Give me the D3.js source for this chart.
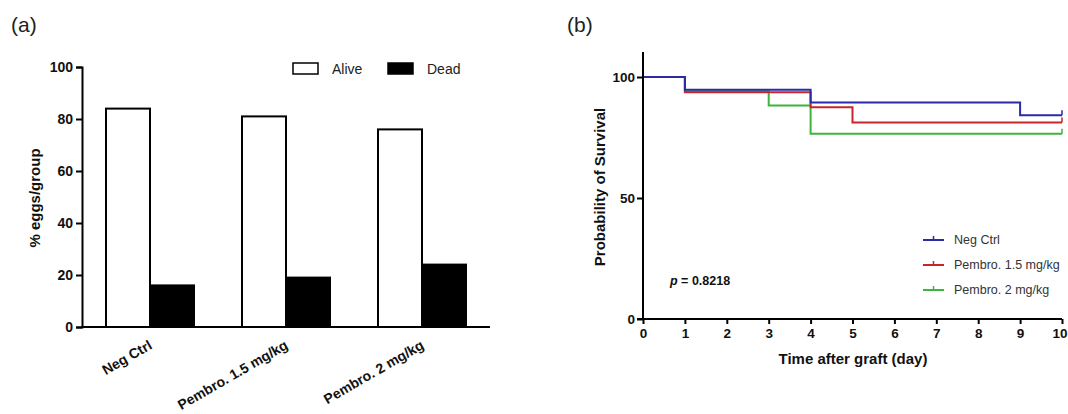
<!DOCTYPE html>
<html>
<head>
<meta charset="utf-8">
<script src="https://cdn.jsdelivr.net/npm/d3@7"></script>
<style>
body { margin: 0; background: #fff; }
text { font-family: "Liberation Sans", Arial, sans-serif; }
</style>
</head>
<body>
<script>
// panel (a) data
var groups = ["Neg Ctrl", "Pembro. 1.5 mg/kg", "Pembro. 2 mg/kg"];
var statusKeys = ["Alive", "Dead"];
var aliveValues = [84, 81, 76];
var deadValues = [16, 19, 24];
var barTicks = [0, 20, 40, 60, 80, 100];

// panel (b) data
var seriesNames = ["Neg Ctrl", "Pembro. 1.5 mg/kg", "Pembro. 2 mg/kg"];
var seriesColors = ["#2b2ba6", "#c4262b", "#3db43d"];
var negCtrlDays = [0, 1, 4, 9, 10];
var negCtrlSurv = [100, 94.7, 89.5, 84.2, 84.2];
var pembro15Days = [0, 1, 4, 5, 10];
var pembro15Surv = [100, 93.75, 87.5, 81.25, 81.25];
var pembro2Days = [0, 1, 3, 4, 10];
var pembro2Surv = [100, 94.1, 88.2, 76.5, 76.5];
var dayTicks = [0, 1, 2, 3, 4, 5, 6, 7, 8, 9, 10];
var survTicks = [0, 50, 100];
var pValue = "0.8218";

var svg = d3.select("body").append("svg").attr("width", 1068).attr("height", 414);

// ---------- panel (a) ----------
svg.append("text").attr("x", 11).attr("y", 32).style("font-size", "21px").attr("fill", "#222").text("(a)");

var x0 = d3.scaleBand().domain(groups).range([82, 490]).paddingInner(0).paddingOuter(0);
var y0 = d3.scaleLinear().domain([0, 100]).range([327, 67]);
var barW = 44;

var barRows = groups.map(function(g, i){ return {group: g, Alive: aliveValues[i], Dead: deadValues[i]}; });

var ga = svg.append("g");
barRows.forEach(function(r){
	var cx = x0(r.group) + x0.bandwidth() / 2;
	ga.append("rect").attr("x", cx - barW).attr("y", y0(r.Alive)).attr("width", barW).attr("height", y0(0) - y0(r.Alive))
	.attr("fill", "#fff").attr("stroke", "#000").attr("stroke-width", 2);
	ga.append("rect").attr("x", cx).attr("y", y0(r.Dead)).attr("width", barW).attr("height", y0(0) - y0(r.Dead))
	.attr("fill", "#000").attr("stroke", "#000").attr("stroke-width", 2);
});

var yAxisA = ga.append("g").attr("transform", "translate(82,0)")
	.call(d3.axisLeft(y0).tickValues(barTicks).tickSize(6).tickPadding(3));
var xAxisA = ga.append("g").attr("transform", "translate(0,327)")
	.call(d3.axisBottom(x0).tickSize(0).tickFormat(""));
[yAxisA, xAxisA].forEach(function(a){
	a.select(".domain").attr("stroke-width", 2);
	a.selectAll(".tick line").attr("stroke-width", 2);
});
xAxisA.select(".domain").attr("d", "M81,0H490");
yAxisA.selectAll("text").style("font-size", "14px").style("font-weight", "bold").style("font-family", "Liberation Sans, Arial, sans-serif").attr("fill", "#111");

groups.forEach(function(g){
	var cx = x0(g) + x0.bandwidth() / 2 + 3;
	ga.append("text").attr("transform", "translate(" + cx + ",348) rotate(-30)")
	.attr("text-anchor", "end").style("font-size", "14px").style("font-weight", "bold").attr("fill", "#111").text(g);
});

ga.append("text").attr("transform", "translate(40,198) rotate(-90)").attr("text-anchor", "middle")
	.style("font-size", "15px").style("font-weight", "bold").attr("fill", "#111").text("% eggs/group");

// legend a
var legA = [{k: "Alive", x: 293, fill: "#fff"}, {k: "Dead", x: 388, fill: "#000"}];
legA.forEach(function(l){
	ga.append("rect").attr("x", l.x).attr("y", 63).attr("width", 25).attr("height", 11)
	.attr("fill", l.fill).attr("stroke", "#000").attr("stroke-width", 1.5);
	ga.append("text").attr("x", l.x + 39).attr("y", 74).style("font-size", "14px").attr("fill", "#222").text(l.k);
});

// ---------- panel (b) ----------
svg.append("text").attr("x", 567).attr("y", 32).style("font-size", "21px").attr("fill", "#222").text("(b)");

var x1 = d3.scaleLinear().domain([0, 10]).range([643, 1062]);
var y1 = d3.scaleLinear().domain([0, 100]).range([319, 77]);

var gb = svg.append("g");
var series = [
	{name: seriesNames[2], color: seriesColors[2], days: pembro2Days, surv: pembro2Surv},
	{name: seriesNames[1], color: seriesColors[1], days: pembro15Days, surv: pembro15Surv},
	{name: seriesNames[0], color: seriesColors[0], days: negCtrlDays, surv: negCtrlSurv}
];
var line = d3.line().x(function(d){ return x1(d[0]); }).y(function(d){ return y1(d[1]); }).curve(d3.curveStepAfter);

series.forEach(function(s){
	var pts = s.days.map(function(d, i){ return [d, s.surv[i]]; });
	gb.append("path").attr("d", line(pts)).attr("fill", "none").attr("stroke", s.color).attr("stroke-width", 2);
	var last = pts[pts.length - 1];
	gb.append("line").attr("x1", x1(last[0])).attr("x2", x1(last[0]))
	.attr("y1", y1(last[1])).attr("y2", y1(last[1]) - 5).attr("stroke", s.color).attr("stroke-width", 1.5);
});

var yAxisB = gb.append("g").attr("transform", "translate(643,0)")
	.call(d3.axisLeft(y1).tickValues(survTicks).tickSize(6).tickPadding(2));
yAxisB.select(".domain").attr("d", "M0,52V319");
var xAxisB = gb.append("g").attr("transform", "translate(0,319)")
	.call(d3.axisBottom(x1).tickValues(dayTicks).tickSize(5).tickPadding(4));
xAxisB.select(".domain").attr("d", "M637,0H1062");
[yAxisB, xAxisB].forEach(function(a){
	a.select(".domain").attr("stroke-width", 2);
	a.selectAll(".tick line").attr("stroke-width", 2);
	a.selectAll("text").style("font-size", "13.5px").style("font-weight", "bold").style("font-family", "Liberation Sans, Arial, sans-serif").attr("fill", "#111");
});
// keep the last day label inside the window
xAxisB.selectAll(".tick text").filter(function(d){ return d === 10; }).attr("text-anchor", "end").attr("x", 5);

gb.append("text").attr("x", 853).attr("y", 364).attr("text-anchor", "middle")
	.style("font-size", "15px").style("font-weight", "bold").attr("fill", "#111").text("Time after graft (day)");
gb.append("text").attr("transform", "translate(605,187) rotate(-90)").attr("text-anchor", "middle")
	.style("font-size", "15px").style("font-weight", "bold").attr("fill", "#111").text("Probability of Survival");

var pt = gb.append("text").attr("x", 670).attr("y", 285).style("font-size", "12.5px").style("font-weight", "bold").attr("fill", "#111");
pt.append("tspan").style("font-style", "italic").text("p");
pt.append("tspan").text(" = " + pValue);

// legend b
seriesNames.forEach(function(n, i){
	var yy = 240 + i * 25;
	gb.append("line").attr("x1", 923).attr("x2", 944).attr("y1", yy).attr("y2", yy).attr("stroke", seriesColors[i]).attr("stroke-width", 2);
	gb.append("line").attr("x1", 933.5).attr("x2", 933.5).attr("y1", yy).attr("y2", yy - 4).attr("stroke", seriesColors[i]).attr("stroke-width", 1.5);
	gb.append("text").attr("x", 954).attr("y", yy + 4).style("font-size", "12.5px").attr("fill", "#333").text(n);
});
</script>
</body>
</html>
